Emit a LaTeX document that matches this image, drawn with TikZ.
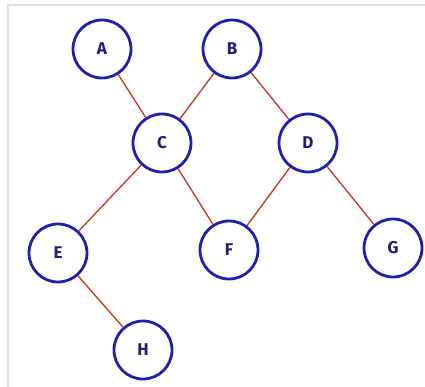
\documentclass[tikz,border=0pt]{standalone}
\usepackage{fontspec}
\setmainfont{Fira Sans}
\definecolor{ring}{RGB}{32,32,176}
\definecolor{label}{RGB}{30,30,120}
\definecolor{link}{RGB}{200,50,30}
\begin{document}
\begin{tikzpicture}[x=1pt,y=-1pt,
  vertex/.style={circle,draw=ring,line width=2.8pt,minimum size=58pt,inner sep=0pt,fill=white,font=\fontsize{17}{19}\selectfont\bfseries\color{label}},
  edge/.style={draw=link,line width=1.3pt}]
\useasboundingbox (0,0) rectangle (425,387);
\fill[white] (0,0) rectangle (425,387);
\draw[black!12,line width=1.5pt] (8,387) -- (8,5) -- (425,5);
\node[vertex] (A) at (102,49) {A};
\node[vertex] (B) at (232,49) {B};
\node[vertex] (C) at (162,143) {C};
\node[vertex] (D) at (308,143) {D};
\node[vertex] (E) at (58,253) {E};
\node[vertex] (F) at (229,250) {F};
\node[vertex] (G) at (393,248) {G};
\node[vertex] (H) at (143,350) {H};
\path[edge] (A) -- (C);
\path[edge] (B) -- (C);
\path[edge] (B) -- (D);
\path[edge] (C) -- (E);
\path[edge] (C) -- (F);
\path[edge] (D) -- (F);
\path[edge] (D) -- (G);
\path[edge] (E) -- (H);
\end{tikzpicture}
\end{document}
